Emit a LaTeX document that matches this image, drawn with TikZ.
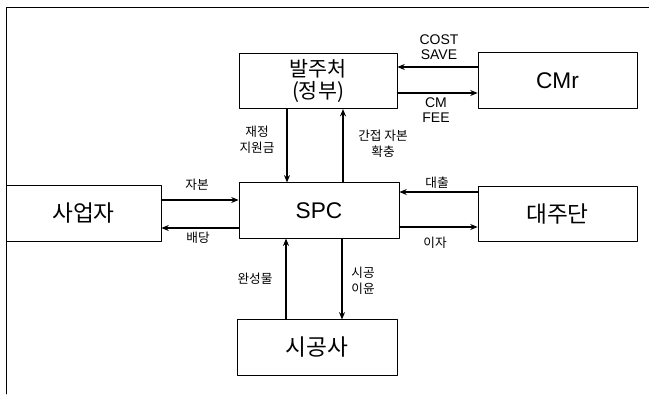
\documentclass[tikz,border=0pt]{standalone}
\usepackage{fontspec}
\setmainfont{Liberation Sans}
\newfontfamily\kr{Noto Sans CJK KR}
\usetikzlibrary{arrows.meta}

\begin{document}
\begin{tikzpicture}[x=0.75pt,y=-0.75pt,>=Stealth,line cap=round,line join=round,
    box/.style={draw,line width=0.6pt,minimum height=41.5pt,inner sep=0pt,font=\fontsize{17}{19.5}\selectfont,align=center},
    flow/.style={-{Stealth[length=5.5pt,width=4.5pt]},line width=0.9pt},
    lbl/.style={font=\kr\fontsize{9.5}{12}\selectfont,align=center,inner sep=0pt},
    tag/.style={font=\fontsize{10.5}{11.3}\selectfont,align=center,inner sep=0pt}]
  \useasboundingbox (0,0) rectangle (649,394);
  % frame
  \draw[line width=0.6pt] (6,394) -- (6,7) -- (649,7);
  % boxes
  \node[box,minimum width=118.5pt,font=\kr\fontsize{15.5}{16}\selectfont] (owner) at (318,81) {발주처\\(정부)};
  \node[box,minimum width=119.25pt] (cmr) at (557.5,80.5) {CMr};
  \node[box,minimum width=116.25pt] (biz) at (83.5,213.5) {\kr 사업자};
  \node[box,minimum width=120pt] (spc) at (319,210.5) {SPC};
  \node[box,minimum width=119.25pt] (lender) at (557.5,214) {\kr 대주단};
  \node[box,minimum width=120pt] (builder) at (317,347.5) {\kr 시공사};
  % top row
  \draw[flow] (cmr.west |- 0,67) -- (owner.east |- 0,67);
  \draw[flow] (owner.east |- 0,93) -- (cmr.west |- 0,93);
  \node[tag] (costsave) at (439,47) {COST\\SAVE};
  \node[tag] (cmfee) at (436,110) {CM\\FEE};
  % owner / spc
  \draw[flow] (owner.south -| 287,0) -- (spc.north -| 287,0);
  \draw[flow] (spc.north -| 343,0) -- (owner.south -| 343,0);
  \node[lbl] (subsidy) at (257,140) {재정\\지원금};
  \node[lbl] (capital) at (383,144) {간접 자본\\확충};
  % middle row
  \draw[flow] (biz.east |- 0,200) -- (spc.west |- 0,200);
  \draw[flow] (spc.west |- 0,228) -- (biz.east |- 0,228);
  \node[lbl] (equity) at (197,185) {자본};
  \node[lbl] (dividend) at (198,238) {배당};
  \draw[flow] (lender.west |- 0,192) -- (spc.east |- 0,192);
  \draw[flow] (spc.east |- 0,227) -- (lender.west |- 0,227);
  \node[lbl] (loan) at (437,183) {대출};
  \node[lbl] (interest) at (435,243) {이자};
  % spc / builder
  \draw[flow] (builder.north -| 286,0) -- (spc.south -| 286,0);
  \draw[flow] (spc.south -| 342,0) -- (builder.north -| 342,0);
  \node[lbl] (product) at (255,279) {완성물};
  \node[lbl] (margin) at (363,281) {시공\\이윤};
\end{tikzpicture}
\end{document}
